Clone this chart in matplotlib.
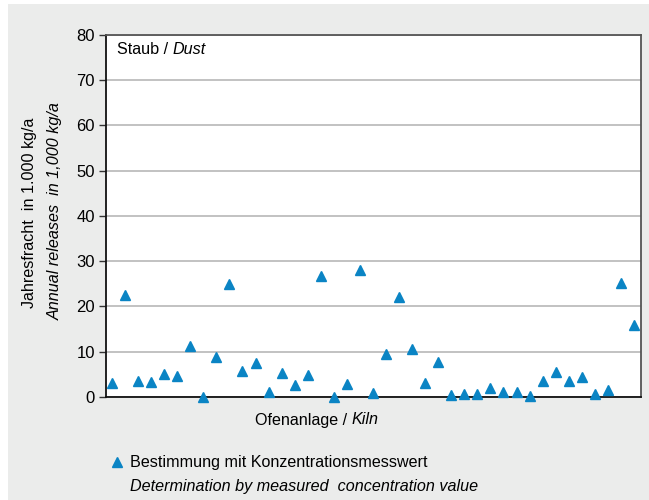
import matplotlib
matplotlib.use("Agg")
import matplotlib.pyplot as plt
from matplotlib.patches import Rectangle
from matplotlib.lines import Line2D

plt.rcParams['font.family'] = ['Liberation Sans', 'DejaVu Sans']

kilns = list(range(1, 42))
dust = [3.0, 22.5, 3.6, 3.4, 5.0, 4.7, 11.2, 0.1, 8.9, 24.9,
        5.7, 7.5, 1.2, 5.3, 2.6, 4.9, 26.8, 0.0, 2.9, 28.1,
        0.9, 9.6, 22.0, 10.6, 3.1, 7.7, 0.4, 0.7, 0.7, 1.9,
        1.0, 1.0, 0.2, 3.6, 5.5, 3.6, 4.4, 0.7, 1.5, 25.1, 15.8]
yticks = [0, 10, 20, 30, 40, 50, 60, 70, 80]

W, H = 649, 500
FS = 11.6
fig = plt.figure(figsize=(W / 100, H / 100), dpi=100)
fig.patch.set_facecolor('white')
fig.add_artist(Rectangle((8 / W, 0), 1 - 8 / W, 1 - 4 / H, transform=fig.transFigure,
                         facecolor='#ebeceb', edgecolor='none', zorder=-10))

ax = fig.add_axes([106 / W, 1 - 397 / H, (641 - 106) / W, (397 - 34.7) / H], zorder=5)
ax.set_facecolor('white')
blue = '#0A84C4'
ax.plot(kilns, dust, linestyle='none', marker='^', markersize=7.5,
        color=blue, markeredgecolor=blue, clip_on=False, zorder=3)
ax.set_xlim(0.54, 41.54)
ax.set_ylim(0, 80)
ax.set_yticks(yticks)
ax.set_yticklabels([str(t) for t in yticks], fontsize=12)
ax.set_xticks([])
ax.tick_params(axis='y', direction='out', length=5, width=1, color='#333333', pad=3)
ax.grid(axis='y', color='#b8b8b8', linewidth=1.2)
ax.set_axisbelow(True)
for s in ['left', 'bottom']:
    ax.spines[s].set_color('#111111')
    ax.spines[s].set_linewidth(1.3)
for s in ['top', 'right']:
    ax.spines[s].set_color('#555555')
    ax.spines[s].set_linewidth(1.3)

renderer = fig.canvas.get_renderer()


def two_part(x_px, y_px, a, b, center=False):
    ta = fig.text(0, 0, a, fontsize=FS)
    tb = fig.text(0, 0, b, fontsize=FS, style='italic')
    wa = ta.get_window_extent(renderer).width
    wb = tb.get_window_extent(renderer).width
    x0 = x_px - (wa + wb) / 2 if center else x_px
    ta.set_position((x0 / W, 1 - y_px / H)); ta.set_va('center')
    tb.set_position(((x0 + wa) / W, 1 - y_px / H)); tb.set_va('center')
    return ta, tb


t1, t2 = two_part(117, 50, 'Staub / ', 'Dust')
t1.set_zorder(10); t2.set_zorder(10)
two_part(317, 420, 'Ofenanlage / ', 'Kiln', center=True)

# y label lines
fig.text(30 / W, 1 - 213 / H, 'Jahresfracht  in 1.000 kg/a', rotation=90,
         fontsize=FS, va='center', ha='center')
fig.text(55 / W, 1 - 211 / H, 'Annual releases  in 1,000 kg/a', rotation=90,
         fontsize=FS, style='italic', va='center', ha='center')

# legend
fig.add_artist(Line2D([117 / W], [1 - 462 / H], marker='^', markersize=6.5, color=blue,
                      linestyle='none', transform=fig.transFigure))
fig.text(130 / W, 1 - 463 / H, 'Bestimmung mit Konzentrationsmesswert', fontsize=FS,
         va='center', ha='left')
fig.text(130 / W, 1 - 486 / H, 'Determination by measured  concentration value', fontsize=FS,
         style='italic', va='center', ha='left')

fig.savefig('out.png', dpi=100, facecolor=fig.get_facecolor())
